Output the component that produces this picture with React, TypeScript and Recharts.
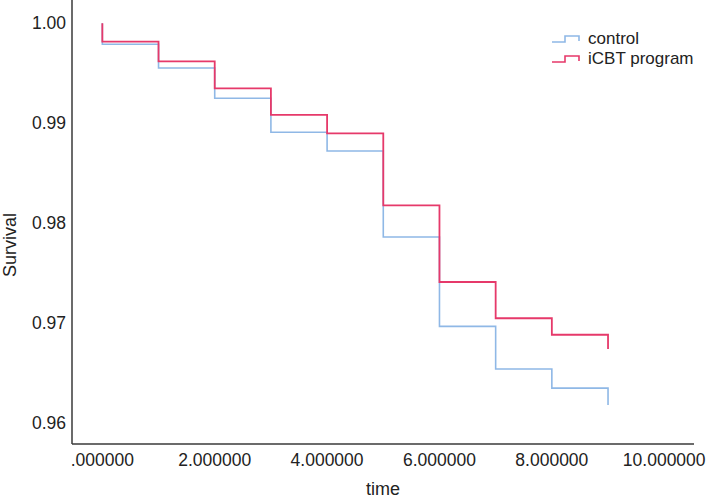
import React from 'react';
import { LineChart, Line, XAxis, YAxis, Label } from 'recharts';

const times = [0, 0, 1, 2, 3, 4, 5, 6, 7, 8, 9];
const controlSurvival = [1.0, 0.9979, 0.99552, 0.99249, 0.98908, 0.98721, 0.9786, 0.96965, 0.96538, 0.96347, 0.96177];
const icbtSurvival = [1.0, 0.99816, 0.99619, 0.99349, 0.99082, 0.98898, 0.98177, 0.97409, 0.97046, 0.96881, 0.96738];
const xTicks = [0, 2, 4, 6, 8, 10];
const yTicks = [0.96, 0.97, 0.98, 0.99, 1.0];
const seriesNames = ['control', 'iCBT program'];

const controlData = times.map((t, i) => ({ time: t, surv: controlSurvival[i] }));
const icbtData = times.map((t, i) => ({ time: t, surv: icbtSurvival[i] }));

const BLUE = '#8fb8e6';
const RED = '#e6396a';
const FONT = '"Liberation Sans", Arial, Helvetica, sans-serif';
const AXIS = '#3a3a3a';

const LegendBox = () => (
  <div
    style={{
      position: 'absolute',
      left: 551,
      top: 29,
      fontFamily: FONT,
      fontSize: 17,
      color: '#222',
      lineHeight: '20px',
    }}
  >
    {seriesNames.map((name, i) => (
      <div key={name} style={{ display: 'flex', alignItems: 'center', height: 20 }}>
        <svg width={30} height={10} style={{ marginRight: 7 }}>
          <path d="M1 8 H14 V2 H28 V7" fill="none" stroke={i === 0 ? BLUE : RED} strokeWidth={1.6} />
        </svg>
        <span>{name}</span>
      </div>
    ))}
  </div>
);

export default function App() {
  return (
    <div style={{ position: 'absolute', left: 0, top: 0, width: 709, height: 500, background: '#fff' }}>
      <LineChart width={709} height={500} margin={{ top: 0, right: 15, bottom: 0, left: 0 }}>
        <XAxis
          type="number"
          dataKey="time"
          domain={[-0.54, 10.53]}
          allowDataOverflow
          ticks={xTicks}
          tickFormatter={(v: number) => (v === 0 ? '.000000' : v.toFixed(6))}
          tickLine={false}
          tickMargin={4}
          axisLine={{ stroke: AXIS, strokeWidth: 1.5 }}
          tick={{ fill: '#222', fontSize: 17.5, fontFamily: FONT }}
          height={56}
          interval={0}
        >
          <Label
            content={() => (
              <text x={383} y={495} textAnchor="middle" fill="#222" fontSize={18} fontFamily={FONT}>
                time
              </text>
            )}
          />
        </XAxis>
        <YAxis
          type="number"
          domain={[0.95787, 1.00233]}
          allowDataOverflow
          ticks={yTicks}
          tickFormatter={(v: number) => v.toFixed(2)}
          tickLine={false}
          tickMargin={0}
          axisLine={{ stroke: AXIS, strokeWidth: 1.5 }}
          tick={{ fill: '#222', fontSize: 17.5, fontFamily: FONT }}
          width={72}
          interval={0}
        >
          <Label
            content={() => (
              <text
                x={16}
                y={245}
                transform="rotate(-90 16 245)"
                textAnchor="middle"
                fill="#222"
                fontSize={18}
                fontFamily={FONT}
              >
                Survival
              </text>
            )}
          />
        </YAxis>
        <Line
          data={controlData}
          dataKey="surv"
          name="control"
          type="stepAfter"
          stroke={BLUE}
          strokeWidth={1.6}
          dot={false}
          isAnimationActive={false}
        />
        <Line
          data={icbtData}
          dataKey="surv"
          name="iCBT program"
          type="stepAfter"
          stroke={RED}
          strokeWidth={1.8}
          dot={false}
          isAnimationActive={false}
        />
      </LineChart>
      <LegendBox />
    </div>
  );
}
